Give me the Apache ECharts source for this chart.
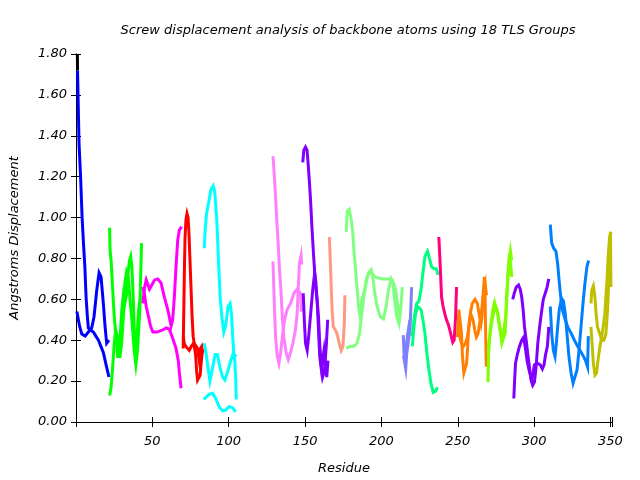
<!DOCTYPE html>
<html>
<head>
<meta charset="utf-8">
<script src="https://cdn.jsdelivr.net/npm/echarts@6/dist/echarts.min.js"></script>
<style>html,body{margin:0;padding:0;background:#fff}#c{width:640px;height:480px}</style>
</head>
<body>
<div id="c"></div>
<script>
// ---- data: [residue, displacement] pairs ----
const blk1 = [[0.9,1.80],[1.0,1.72]];
const blu1 = [[1.0,1.72],[2.0,1.36],[3.0,1.20],[4.0,1.00],[5.0,0.86],[5.8,0.76],[6.6,0.61],[7.5,0.51],[8.1,0.46],[9.5,0.45],[11.4,0.44],[13,0.42],[14.7,0.40],[16.3,0.37],[17.9,0.34],[20.0,0.27],[21.6,0.22]];
const blu2 = [[0.6,0.54],[2.3,0.47],[3.8,0.43],[6.0,0.42],[8.1,0.44],[10.3,0.46],[11.8,0.515],[13.6,0.645],[15.1,0.73],[16.4,0.71],[17.9,0.58],[19.0,0.47],[20.1,0.385],[21.6,0.40]];
const grn1 = [[22,0.95],[22.3,0.84],[23,0.79],[23.8,0.68],[24.9,0.53],[26,0.43],[27.3,0.32],[28.8,0.32],[29.9,0.385],[31,0.515],[32,0.68],[33.1,0.735],[34.2,0.71],[35.3,0.61],[36.8,0.48],[38.1,0.35],[39.2,0.28],[40.3,0.35],[41.8,0.55],[42.9,0.875]];
const grn2 = [[22,0.13],[23,0.17],[24,0.27],[25,0.38],[26,0.45],[27,0.42],[28,0.37],[29,0.43],[30,0.55],[31,0.62],[32,0.58],[33,0.62],[34,0.72],[35,0.79],[35.8,0.81],[36.6,0.76],[37.4,0.62],[38.2,0.45],[39,0.37],[40,0.42],[41,0.55],[42.3,0.62]];
const mag1 = [[43.8,0.58],[44.9,0.66],[46,0.695],[47,0.69],[48.1,0.65],[49.7,0.67],[51.5,0.695],[53.6,0.70],[55.7,0.68],[57.9,0.61],[60.1,0.55],[62.3,0.47],[63.3,0.50],[64.4,0.61],[65.5,0.76],[66.6,0.89],[67.7,0.94],[69.2,0.955]];
const mag2 = [[43.8,0.66],[44.9,0.62],[46,0.565],[47.5,0.515],[48.8,0.47],[50.3,0.44],[53,0.44],[56.8,0.45],[59,0.46],[61,0.455],[63.3,0.41],[65.5,0.36],[67,0.30],[67.7,0.24],[68.8,0.165]];
const red1 = [[70.2,0.36],[70.6,0.55],[71,0.75],[71.4,0.90],[72,0.99],[72.7,1.02],[73.4,1.00],[74,0.92],[74.6,0.80],[75.3,0.66],[76,0.52],[76.7,0.42],[77.4,0.385],[78.5,0.385],[79.5,0.36],[80.7,0.30],[81.5,0.36],[82.3,0.37],[83,0.34]];
const red2 = [[70.2,0.42],[71,0.38],[72,0.37],[73,0.36],[74.2,0.35],[75.5,0.37],[76.5,0.38],[77.5,0.37],[78.3,0.33],[79,0.25],[79.6,0.205],[80.5,0.20],[81.3,0.23],[82.1,0.30],[82.9,0.35]];
const cyn1 = [[84,0.85],[84.6,0.94],[85.5,1.02],[86.8,1.07],[88.3,1.135],[89.8,1.155],[90.8,1.13],[92.2,0.99],[93.3,0.79],[94.4,0.61],[95.5,0.515],[96.8,0.44],[98,0.47],[99.6,0.565],[100.9,0.58],[101.8,0.53],[102.6,0.42],[103.3,0.34],[104,0.30],[104.5,0.22],[105,0.11]];
const cyn2 = [[84,0.385],[85.3,0.33],[86.6,0.255],[87.7,0.20],[89.3,0.26],[91.1,0.33],[92.6,0.33],[94.2,0.27],[96,0.22],[97.5,0.205],[99,0.24],[101.4,0.30],[102.9,0.335],[104,0.34],[105,0.32]];
const cyn3 = [[83.6,0.11],[85,0.12],[87.2,0.135],[89.4,0.14],[91.5,0.115],[93.7,0.075],[96,0.055],[98,0.058],[100.3,0.075],[102.5,0.07],[104.6,0.05]];
const pnk1 = [[129,1.30],[129.8,1.215],[130.7,1.10],[131.6,0.97],[132.5,0.86],[133.3,0.74],[134.2,0.645],[135.1,0.515],[136.1,0.415],[137.7,0.335],[139,0.305],[140.5,0.34],[142,0.385],[143.7,0.45],[144.8,0.53],[145.5,0.645],[146.3,0.775],[147.4,0.815],[147.8,0.77]];
const pnk2 = [[129,0.785],[129.5,0.66],[130,0.55],[130.7,0.415],[131.8,0.32],[132.9,0.287],[134,0.34],[135.1,0.415],[136.6,0.50],[138.3,0.55],[140.5,0.58],[142.7,0.63],[144.8,0.65],[147,0.63],[147.6,0.54]];
const pur1 = [[148.5,1.27],[149.2,1.33],[150.3,1.345],[151.3,1.33],[152,1.265],[152.9,1.17],[153.7,1.07],[154.6,0.94],[155.5,0.825],[156.3,0.73],[157.2,0.645],[158.1,0.58],[158.9,0.50],[159.6,0.385],[160.5,0.287],[161.5,0.22],[162.7,0.25],[164,0.385],[164.8,0.50]];
const pur2 = [[148.8,0.63],[149.5,0.50],[150.3,0.385],[151.4,0.35],[152.4,0.42],[153.5,0.515],[155,0.645],[156.3,0.73],[157,0.69],[158,0.58],[158.8,0.45],[159.6,0.32],[160.7,0.255],[161.5,0.30],[162.4,0.35],[163.3,0.28],[164.2,0.22],[165,0.30]];
const sal1 = [[165.9,0.905],[166.6,0.775],[167.2,0.645],[167.7,0.55],[168.5,0.465],[169.8,0.45],[171,0.43],[172.4,0.385],[173.7,0.35],[174.8,0.37],[175.7,0.48],[176.1,0.62]];
const lgr1 = [[177,0.93],[177.6,1.03],[178.9,1.04],[180,1.00],[181.1,0.94],[182,0.84],[183,0.75],[184,0.66],[185,0.565],[186.1,0.515],[187.2,0.60],[188.9,0.645],[190.5,0.71],[192.6,0.735],[195.9,0.71],[200.3,0.70],[204.6,0.70],[207.2,0.695],[209.4,0.645],[210.7,0.565],[211.8,0.50],[212.6,0.55],[213.7,0.66]];
const lgr2 = [[177,0.36],[179.6,0.37],[182,0.37],[184,0.385],[185.7,0.435],[187,0.52],[188.3,0.60],[190,0.68],[191.5,0.73],[193.3,0.745],[194.3,0.71],[195.4,0.645],[197,0.57],[199.2,0.515],[201.3,0.505],[203.1,0.565],[204.6,0.645],[206.3,0.70],[207.5,0.68],[208.9,0.58],[210,0.515],[211.1,0.49],[212,0.52]];
const per1 = [[214.3,0.425],[215,0.30],[215.9,0.26],[216.6,0.335],[217.6,0.39],[218.7,0.45],[219.8,0.66]];
const per2 = [[214.3,0.31],[215.2,0.33],[216.5,0.39],[217.6,0.45],[218.7,0.50]];
const spg1 = [[220.2,0.37],[221.3,0.465],[222.4,0.53],[223.7,0.565],[224.8,0.57],[225.9,0.55],[227.2,0.50],[228.5,0.435],[229.8,0.335],[231.1,0.255],[232.4,0.19],[233.9,0.145],[235.3,0.15],[236.8,0.17]];
const spg2 = [[220.2,0.42],[221.6,0.52],[223.1,0.58],[224.5,0.59],[225.9,0.645],[227.2,0.73],[228.5,0.81],[230.2,0.835],[231.5,0.80],[232.8,0.76],[234.6,0.75],[236,0.75],[237,0.72]];
const dpk1 = [[237.6,0.905],[238.3,0.80],[238.9,0.695],[239.4,0.61],[240.4,0.565],[241.5,0.53],[242.6,0.50],[243.7,0.48],[244.8,0.45],[245.9,0.415],[246.7,0.39],[247.6,0.40],[248.5,0.50],[249.2,0.66]];
const org1 = [[249.8,0.415],[250.7,0.55],[251.5,0.55],[252.4,0.435],[253.1,0.32],[254,0.24],[255,0.235],[255.8,0.287],[256.5,0.37],[257.1,0.465],[258.2,0.53],[259.5,0.58],[261.3,0.60],[262.8,0.58],[264.3,0.515],[265.2,0.48],[265.9,0.515],[266.5,0.61],[267.4,0.71],[268.3,0.71],[268.8,0.62]];
const org2 = [[249.8,0.465],[251,0.43],[252.4,0.385],[253.7,0.37],[255,0.385],[256.3,0.415],[257.5,0.47],[258.5,0.53],[260,0.50],[261.1,0.45],[262.2,0.415],[263.2,0.43],[264.3,0.48],[265.4,0.53],[266.5,0.61],[267.8,0.66],[268.3,0.42],[268.7,0.27]];
const chr1 = [[269.8,0.195],[270.2,0.335],[271.1,0.435],[272,0.50],[273,0.55],[274.1,0.585],[275.4,0.58],[276.7,0.515],[277.8,0.45],[278.9,0.385],[280,0.38],[281.1,0.435],[281.9,0.60],[282.8,0.71],[283.9,0.825],[285,0.825],[285.4,0.71]];
const chr2 = [[269.8,0.36],[271,0.42],[272.5,0.50],[274.6,0.565],[275.8,0.55],[277,0.48],[278.5,0.42],[280,0.44],[281.5,0.52],[283.2,0.76],[284.5,0.835],[285.3,0.79]];
const vio1 = [[286,0.60],[287,0.63],[288.3,0.66],[289.8,0.67],[290.9,0.65],[291.9,0.61],[292.8,0.55],[293.7,0.465],[294.8,0.40],[295.8,0.335],[296.9,0.27],[298,0.205],[299.1,0.18],[300.2,0.195],[301.3,0.27],[302.4,0.385],[303.6,0.465],[304.7,0.53],[306,0.60],[307.3,0.63],[308.5,0.66],[309.6,0.70]];
const vio2 = [[286.7,0.115],[287.2,0.20],[287.8,0.287],[289,0.33],[290.4,0.37],[291.9,0.40],[293.2,0.415],[294.3,0.36],[295.4,0.30],[296.5,0.26],[297.5,0.23],[298.4,0.205],[299.3,0.24],[300.2,0.28],[302.4,0.287],[304,0.28],[305.4,0.26],[306.5,0.28],[307.5,0.33],[308.7,0.37],[309.6,0.465]];
const azu1 = [[310.6,0.965],[311.5,0.875],[312.8,0.85],[314.3,0.835],[315.4,0.775],[316.5,0.68],[317.6,0.60],[318.7,0.545],[319.8,0.515],[322,0.465],[324.2,0.435],[326.4,0.40],[328.5,0.37],[330.5,0.345],[332.4,0.32],[333.7,0.30],[335,0.27],[335.5,0.42]];
const azu2 = [[310.6,0.565],[311.5,0.435],[312.6,0.35],[313.7,0.32],[314.5,0.38],[315.4,0.465],[316.5,0.55],[318,0.605],[319.2,0.59],[320.4,0.53],[321.5,0.435],[322.8,0.32],[324.2,0.24],[325.5,0.19],[326.8,0.195],[328.1,0.255],[329.4,0.35],[330.7,0.465],[332,0.58],[333.3,0.68],[334.6,0.76],[335.7,0.79]];
const olv1 = [[337.2,0.58],[337.8,0.645],[338.8,0.665],[339.7,0.62],[340.6,0.53],[341.5,0.465],[342.8,0.435],[344.3,0.40],[345.7,0.40],[347,0.43],[348.1,0.55],[349,0.71],[349.6,0.84],[350,0.93],[350.3,0.66]];
const olv2 = [[337.2,0.465],[338,0.38],[338.8,0.287],[339.9,0.23],[340.9,0.24],[341.8,0.30],[343.1,0.37],[344.6,0.43],[346.3,0.53],[347.6,0.68],[348.5,0.81],[349.4,0.905],[350.3,0.93]];

const groupColors = ['#000000','#0000ff','#00ff00','#ff00ff','#ff0000','#00ffff','#ff80ff','#8000ff','#ff9980','#80ff80','#8080ff','#00ff80','#ff0080','#ff8000','#80ff00','#8000ff','#0080ff','#bfbf00'];
const groupLines = [[blk1],[blu1,blu2],[grn1,grn2],[mag1,mag2],[red1,red2],[cyn1,cyn2,cyn3],[pnk1,pnk2],[pur1,pur2],[sal1],[lgr1,lgr2],[per1,per2],[spg1,spg2],[dpk1],[org1,org2],[chr1,chr2],[vio1,vio2],[azu1,azu2],[olv1,olv2]];
const yTicks = [0, 0.2, 0.4, 0.6, 0.8, 1.0, 1.2, 1.4, 1.6, 1.8];
const xTickLabels = [50, 100, 150, 200, 250, 300, 350];

const FONT = 'DejaVu Sans';
const series = [];
groupLines.forEach((lines, gi) => {
  lines.forEach(d => {
    series.push({
      type: 'line', data: d, showSymbol: false, symbol: 'none',
      lineStyle: { color: groupColors[gi], width: 3, join: 'miter' },
      itemStyle: { color: groupColors[gi] },
      silent: true, animation: false, clip: true
    });
  });
});

const tickCommon = { inside: true, length: 5, lineStyle: { color: '#000', width: 1 } };
const lineCommon = { show: true, lineStyle: { color: '#000', width: 1 } };
const labelFont = { fontFamily: FONT, fontStyle: 'italic', fontSize: 13, color: '#000' };

const chart = echarts.init(document.getElementById('c'), null, { renderer: 'canvas' });
chart.setOption({
  backgroundColor: '#fff',
  animation: false,
  title: {
    text: 'Screw displacement analysis of backbone atoms using 18 TLS Groups',
    left: 343, top: 19, textAlign: 'center',
    textStyle: { fontFamily: FONT, fontStyle: 'italic', fontWeight: 'normal', fontSize: 13, color: '#000' }
  },
  grid: { left: 75, right: 28, top: 54, bottom: 58, containLabel: false },
  xAxis: [{
    type: 'value', min: 0, max: 351, interval: 50, position: 'bottom',
    name: 'Residue', nameLocation: 'middle', nameGap: 40,
    nameTextStyle: labelFont,
    axisLine: lineCommon, axisTick: tickCommon, splitLine: { show: false },
    axisLabel: Object.assign({ margin: 13, formatter: v => xTickLabels.indexOf(v) >= 0 ? String(v) : '' }, labelFont)
  }, {
    type: 'value', min: 0, max: 351, interval: 50, position: 'top',
    axisLine: lineCommon, axisTick: tickCommon, splitLine: { show: false }, axisLabel: { show: false }
  }],
  yAxis: [{
    type: 'value', min: 0, max: 1.8, interval: 0.2, position: 'left',
    name: 'Angstroms Displacement', nameLocation: 'middle', nameGap: 55, nameRotate: 90,
    nameTextStyle: labelFont,
    axisLine: lineCommon, axisTick: tickCommon, splitLine: { show: false },
    axisLabel: Object.assign({ margin: 9, formatter: v => yTicks.some(t => Math.abs(t - v) < 1e-6) ? v.toFixed(2) : '' }, labelFont)
  }, {
    type: 'value', min: 0, max: 1.8, interval: 0.2, position: 'right',
    axisLine: lineCommon, axisTick: tickCommon, splitLine: { show: false }, axisLabel: { show: false }
  }],
  series: series
});
</script>
</body>
</html>
